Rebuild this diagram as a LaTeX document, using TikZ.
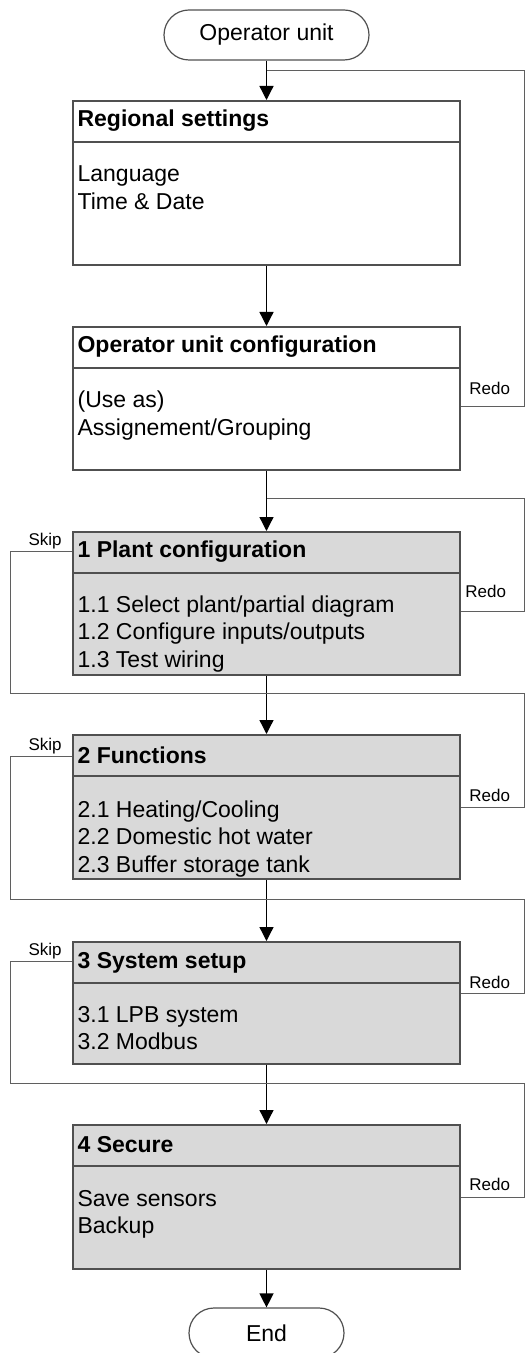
\documentclass[tikz,border=0pt]{standalone}
\usepackage{fontspec}
\setmainfont{Liberation Sans}
\usepackage{tikz}
\usetikzlibrary{arrows.meta, positioning, calc}
\usepackage{xcolor}
\definecolor{stagegray}{RGB}{217,217,217}
\definecolor{framegray}{RGB}{80,80,80}
\definecolor{wiregray}{RGB}{95,95,95}
\tikzstyle{term} = [rectangle, draw=framegray, line width=0.6pt, rounded corners=12.5pt, minimum width=102.5pt, minimum height=25pt, inner sep=0pt, font=\fontsize{11.5}{13.75}\selectfont]
\tikzstyle{divider} = [draw=framegray, line width=0.8pt]

\begin{document}
\begin{tikzpicture}[x=0.5pt, y=0.5pt,
  stage/.style={rectangle, draw=framegray, line width=0.8pt, minimum width=193.5pt, inner sep=0pt, anchor=north},
  plant/.style={stage, fill=stagegray},
  title/.style={anchor=west, inner sep=0pt, font=\fontsize{11.5}{13.75}\selectfont\bfseries},
  body/.style={anchor=base west, inner sep=0pt, align=left, font=\fontsize{11.5}{13.75}\selectfont},
  tag/.style={inner sep=0pt, font=\fontsize{8.5}{10}\selectfont},
  wire/.style={draw=wiregray, line width=0.5pt},
  ar/.style={-{Triangle[length=7pt,width=7pt]}, line width=0.65pt}]

  \useasboundingbox (0,0) rectangle (525,-1353);

  % start and end
  \node[term] (start) at (266.5,-35) {Operator unit};
  \node[term, minimum width=77.5pt] (finish) at (266.5,-1333) {End};

  % boxes
  \node[stage, minimum height=82pt] (regional) at (266.5,-100) {};
  \node[stage, minimum height=71.5pt] (opconf) at (266.5,-326) {};
  \node[plant, minimum height=71.5pt] (plantcfg) at (266.5,-531) {};
  \node[plant, minimum height=72pt] (funcs) at (266.5,-734) {};
  \node[plant, minimum height=61pt] (syssetup) at (266.5,-941) {};
  \node[plant, minimum height=72pt] (secure) at (266.5,-1124) {};

  \foreach \b in {regional, opconf, plantcfg, funcs, syssetup, secure}
    \draw[divider] ($(\b.north west)+(0,-42)$) -- ($(\b.north east)+(0,-42)$);

  % titles
  \node[title] (regional_t) at ($(regional.north west)+(5,-21)$) {Regional settings};
  \node[title] (opconf_t) at ($(opconf.north west)+(5,-21)$) {Operator unit configuration};
  \node[title] (plantcfg_t) at ($(plantcfg.north west)+(5,-21)$) {1 Plant configuration};
  \node[title] (funcs_t) at ($(funcs.north west)+(5,-21)$) {2 Functions};
  \node[title] (syssetup_t) at ($(syssetup.north west)+(5,-22)$) {3 System setup};
  \node[title] (secure_t) at ($(secure.north west)+(5,-21)$) {4 Secure};

  % contents (base = last line)
  \node[body] (regional_b) at ($(regional.north west)+(5,-109.5)$) {Language\\Time \& Date};
  \node[body] (opconf_b) at ($(opconf.north west)+(5,-109.5)$) {(Use as)\\Assignement/Grouping};
  \node[body] (plantcfg_b) at ($(plantcfg.north west)+(5,-136)$) {1.1 Select plant/partial diagram\\1.2 Configure inputs/outputs\\1.3 Test wiring};
  \node[body] (funcs_b) at ($(funcs.north west)+(5,-138)$) {2.1 Heating/Cooling\\2.2 Domestic hot water\\2.3 Buffer storage tank};
  \node[body] (syssetup_b) at ($(syssetup.north west)+(5,-108.5)$) {3.1 LPB system\\3.2 Modbus};
  \node[body] (secure_b) at ($(secure.north west)+(5,-109.5)$) {Save sensors\\Backup};

  % loop joints on the main line
  \coordinate (loop0) at (266.5,-71);
  \coordinate (loop1) at (266.5,-498);
  \coordinate (skip1) at (10,-693);
  \coordinate (skip2) at (10,-899);
  \coordinate (skip3) at (10,-1083);

  % main flow
  \draw[ar] (start) -- (regional);
  \draw[ar] (regional) -- (opconf);
  \draw[ar] (opconf) -- (plantcfg);
  \draw[ar] (plantcfg) -- (funcs);
  \draw[ar] (funcs) -- (syssetup);
  \draw[ar] (syssetup) -- (secure);
  \draw[ar] (secure) -- (finish);

  % skip loops
  \draw[wire] ($(plantcfg.north west)+(0,-20)$) -| (skip1) -- ++(514,0);
  \draw[wire] ($(funcs.north west)+(0,-22)$) -| (skip2) -- ++(514,0);
  \draw[wire] ($(syssetup.north west)+(0,-20)$) -| (skip3) -- ++(514,0);
  \node[tag, anchor=base east] (skip1_l) at (62,-545) {Skip};
  \node[tag, anchor=base east] (skip2_l) at (62,-750) {Skip};
  \node[tag, anchor=base east] (skip3_l) at (62,-955) {Skip};

  % redo loops
  \draw[wire] (loop0) -- (524,-71) -- (524,-406) -- ($(opconf.north east)+(0,-80)$);
  \draw[wire] (loop1) -- (524,-498) -- (524,-611) -- ($(plantcfg.north east)+(0,-80)$);
  \draw[wire] (skip1) ++(514,0) -- (524,-807) -- ($(funcs.north east)+(0,-73)$);
  \draw[wire] (skip2) ++(514,0) -- (524,-993) -- ($(syssetup.north east)+(0,-52)$);
  \draw[wire] (skip3) ++(514,0) -- (524,-1197) -- ($(secure.north east)+(0,-73)$);
  \node[tag, anchor=base west] (redo1_l) at (469,-394) {Redo};
  \node[tag, anchor=base west] (redo2_l) at (465,-597) {Redo};
  \node[tag, anchor=base west] (redo3_l) at (469,-801) {Redo};
  \node[tag, anchor=base west] (redo4_l) at (469,-988) {Redo};
  \node[tag, anchor=base west] (redo5_l) at (469,-1190) {Redo};
\end{tikzpicture}
\end{document}
